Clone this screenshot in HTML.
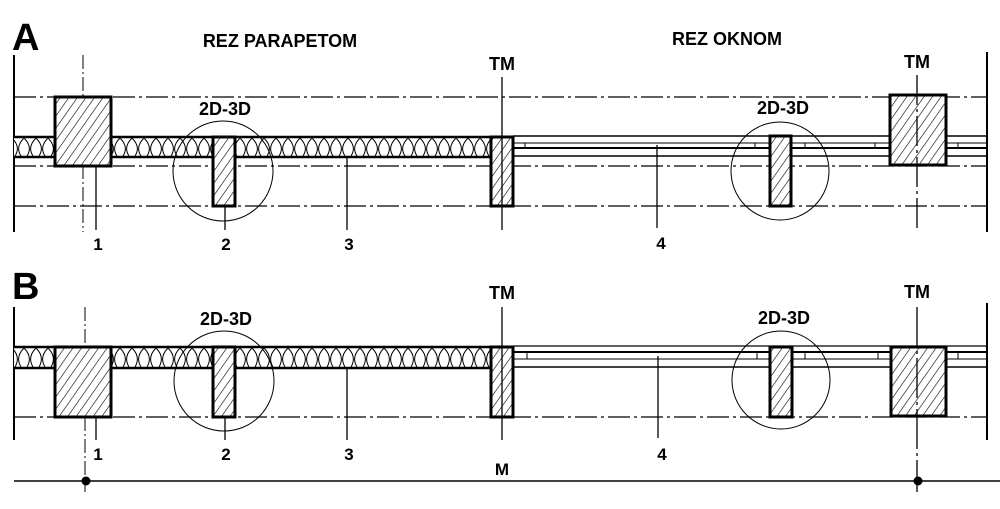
<!DOCTYPE html>
<html><head><meta charset="utf-8"><style>
html,body{margin:0;padding:0;background:#fff;}
svg{display:block;}
text{font-family:"Liberation Sans",Arial,sans-serif;font-weight:bold;fill:#000;}
</style></head><body>
<svg width="1000" height="509" viewBox="0 0 1000 509" xmlns="http://www.w3.org/2000/svg">
<defs>
<pattern id="h" width="7" height="7" patternUnits="userSpaceOnUse" patternTransform="rotate(35)">
<rect width="7" height="7" fill="#fff"/><line x1="0" y1="0" x2="0" y2="7" stroke="#000" stroke-width="1.2"/>
</pattern>
<pattern id="ins" x="0" y="137" width="12" height="20" patternUnits="userSpaceOnUse">
<rect width="12" height="20" fill="#fff"/>
<path d="M0,1 Q9,10 3,19 M12,1 Q3,10 9,19" fill="none" stroke="#000" stroke-width="1"/>
</pattern>
<pattern id="insB" x="0" y="347" width="12" height="21" patternUnits="userSpaceOnUse">
<rect width="12" height="21" fill="#fff"/>
<path d="M0,1 Q9,10 3,20 M12,1 Q3,10 9,20" fill="none" stroke="#000" stroke-width="1"/>
</pattern>
</defs>
<g stroke="#000" fill="none">
<!-- ===== PANEL A ===== -->
<line x1="14" y1="55" x2="14" y2="232" stroke-width="2"/>
<line x1="83" y1="55" x2="83" y2="232" stroke-width="1" stroke-dasharray="14,3,2,3"/>
<line x1="987" y1="52" x2="987" y2="232" stroke-width="2"/>
<g stroke-width="1.3" stroke-dasharray="22,4,3,4">
<line x1="14" y1="97" x2="987" y2="97"/>
<line x1="14" y1="166" x2="987" y2="166"/>
<line x1="14" y1="206" x2="987" y2="206"/>
</g>
<rect x="14" y="137" width="488" height="20" fill="url(#ins)" stroke="none"/>
<line x1="14" y1="137" x2="513" y2="137" stroke-width="2.5"/>
<line x1="14" y1="157" x2="500" y2="157" stroke-width="2.5"/>
<line x1="513" y1="136" x2="987" y2="136" stroke-width="1.5"/>
<line x1="513" y1="143" x2="987" y2="143" stroke-width="1"/>
<line x1="513" y1="148" x2="987" y2="148" stroke-width="2"/>
<line x1="513" y1="156" x2="987" y2="156" stroke-width="1.5"/>
<g stroke-width="1"><line x1="525" y1="143" x2="525" y2="148"/><line x1="755" y1="143" x2="755" y2="148"/><line x1="805" y1="143" x2="805" y2="148"/><line x1="875" y1="143" x2="875" y2="148"/><line x1="958" y1="143" x2="958" y2="148"/></g>
<rect x="55" y="97" width="56" height="69" fill="url(#h)" stroke-width="3"/>
<rect x="213" y="137" width="22" height="69" fill="url(#h)" stroke-width="3"/>
<rect x="491" y="137" width="22" height="69" fill="url(#h)" stroke-width="3"/>
<rect x="770" y="136" width="21" height="70" fill="url(#h)" stroke-width="3"/>
<rect x="890" y="95" width="56" height="70" fill="url(#h)" stroke-width="3"/>
<line x1="502" y1="77" x2="502" y2="230" stroke-width="1.3"/>
<line x1="917" y1="75" x2="917" y2="230" stroke-width="1.3" stroke-dasharray="30,4,3,4"/>
<circle cx="223" cy="171" r="50" stroke-width="1"/>
<circle cx="780" cy="171" r="49" stroke-width="1"/>
<g stroke-width="1.3">
<line x1="96" y1="166" x2="96" y2="230"/>
<line x1="225" y1="206" x2="225" y2="230"/>
<line x1="347" y1="157" x2="347" y2="230"/>
<line x1="657" y1="145" x2="657" y2="228"/>
</g>
<!-- ===== PANEL B ===== -->
<line x1="14" y1="307" x2="14" y2="440" stroke-width="2"/>
<line x1="85" y1="307" x2="85" y2="492" stroke-width="1" stroke-dasharray="14,3,2,3"/>
<line x1="987" y1="303" x2="987" y2="440" stroke-width="2"/>
<line x1="14" y1="417" x2="987" y2="417" stroke-width="1.3" stroke-dasharray="22,4,3,4"/>
<rect x="14" y="347" width="488" height="21" fill="url(#insB)" stroke="none"/>
<line x1="14" y1="347" x2="513" y2="347" stroke-width="2.5"/>
<line x1="14" y1="368" x2="500" y2="368" stroke-width="2.5"/>
<line x1="513" y1="346" x2="987" y2="346" stroke-width="1.3"/>
<line x1="513" y1="352" x2="987" y2="352" stroke-width="2"/>
<line x1="513" y1="359" x2="987" y2="359" stroke-width="1"/>
<line x1="513" y1="367" x2="987" y2="367" stroke-width="1.5"/>
<g stroke-width="1"><line x1="527" y1="352" x2="527" y2="359"/><line x1="757" y1="352" x2="757" y2="359"/><line x1="805" y1="352" x2="805" y2="359"/><line x1="878" y1="352" x2="878" y2="359"/><line x1="958" y1="352" x2="958" y2="359"/></g>
<rect x="55" y="347" width="56" height="70" fill="url(#h)" stroke-width="3"/>
<rect x="213" y="347" width="22" height="70" fill="url(#h)" stroke-width="3"/>
<rect x="491" y="347" width="22" height="70" fill="url(#h)" stroke-width="3"/>
<rect x="770" y="347" width="22" height="70" fill="url(#h)" stroke-width="3"/>
<rect x="891" y="347" width="55" height="69" fill="url(#h)" stroke-width="3"/>
<line x1="502" y1="307" x2="502" y2="440" stroke-width="1.3"/>
<line x1="917" y1="307" x2="917" y2="492" stroke-width="1.3" stroke-dasharray="40,4,3,4"/>
<circle cx="224" cy="381" r="50" stroke-width="1"/>
<circle cx="781" cy="380" r="49" stroke-width="1"/>
<g stroke-width="1.3">
<line x1="96" y1="417" x2="96" y2="440"/>
<line x1="225" y1="417" x2="225" y2="440"/>
<line x1="347" y1="368" x2="347" y2="440"/>
<line x1="658" y1="356" x2="658" y2="438"/>
</g>
<line x1="14" y1="481" x2="1000" y2="481" stroke-width="1.5"/>
</g>
<circle cx="86" cy="481" r="4.5" fill="#000"/>
<circle cx="918" cy="481" r="4.5" fill="#000"/>
<text x="12" y="50" font-size="38">A</text>
<text x="12" y="299" font-size="38">B</text>
<text x="280" y="47" font-size="18" text-anchor="middle">REZ PARAPETOM</text>
<text x="727" y="45" font-size="18" text-anchor="middle">REZ OKNOM</text>
<g font-size="18" text-anchor="middle">
<text x="502" y="70">TM</text>
<text x="917" y="68">TM</text>
<text x="225" y="115">2D-3D</text>
<text x="783" y="114">2D-3D</text>
<text x="502" y="299">TM</text><text x="917" y="298">TM</text>
<text x="226" y="325">2D-3D</text><text x="784" y="324">2D-3D</text>
</g>
<g font-size="17" text-anchor="middle">
<text x="98" y="250">1</text><text x="226" y="250">2</text><text x="349" y="250">3</text><text x="661" y="249">4</text>
<text x="98" y="460">1</text><text x="226" y="460">2</text><text x="349" y="460">3</text><text x="662" y="460">4</text>
<text x="502" y="475">M</text>
</g>
</svg>
</body></html>
